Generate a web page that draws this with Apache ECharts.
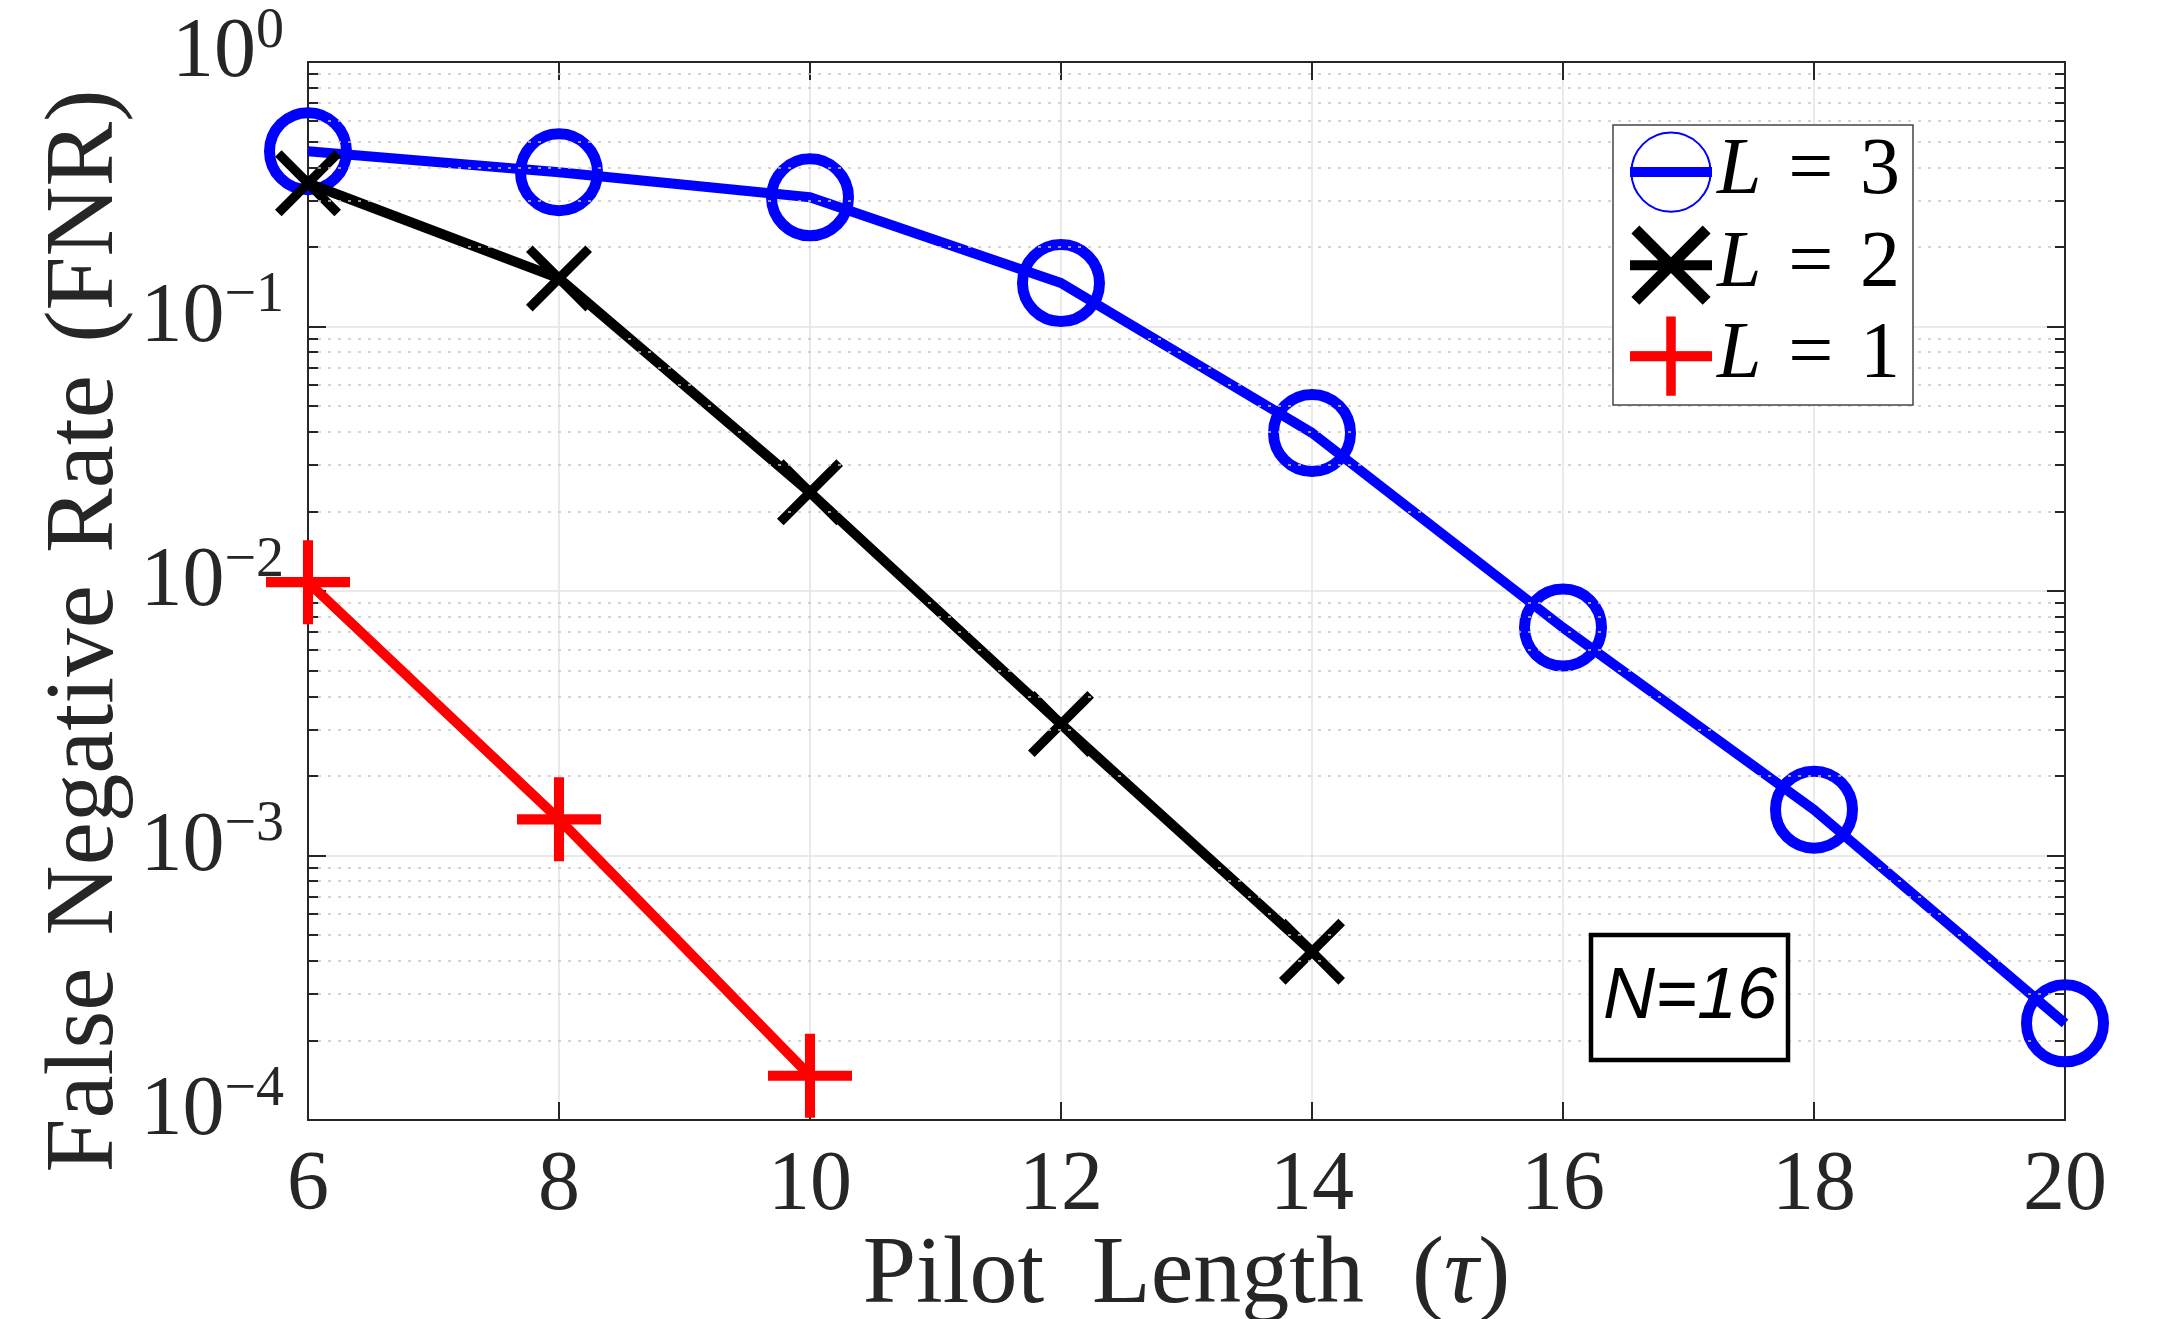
<!DOCTYPE html>
<html>
<head>
<meta charset="utf-8">
<script src="https://cdn.jsdelivr.net/npm/echarts@6/dist/echarts.min.js"></script>
<style>
html, body { margin: 0; padding: 0; background: #fff; }
#chart { width: 2163px; height: 1319px; }
</style>
</head>
<body>
<div id="chart"></div>
<script>
// pilot length on x, FNR per number of paths L
var pilotLength = [6, 8, 10, 12, 14, 16, 18, 20];
var fnrL3 = [0.46, 0.383, 0.308, 0.146, 0.0396, 0.00727, 0.00149, 0.000232];
var fnrL2 = [0.348, 0.152, 0.0236, 0.00314, 0.000433];
var fnrL1 = [0.0108, 0.00137, 0.000147];
var seriesNames = ['L = 3', 'L = 2', 'L = 1'];
// minor log ticks: mantissa x 10^decade
var minorMantissa = [2, 3, 4, 5, 6, 7, 8, 9];
var minorDecades = [-4, -3, -2, -1];

var serif = "'Liberation Serif', 'DejaVu Serif', serif";
var ink = '#262626';
var xMin = 6, xMax = 20;

function pairs(ys) {
    return ys.map(function (y, i) { return [pilotLength[i], y]; });
}

// X marker and plus marker, filled shapes
var xPath = 'path://M10,0 L100,90 L90,100 L0,10 Z M90,0 L100,10 L10,100 L0,90 Z';
var plusPath = 'path://M44,0 H56 V44 H100 V56 H56 V100 H44 V56 H0 V44 H44 Z';

// dotted minor grid + short inner ticks on left/right
var minorLines = [];
var tickLen = 0.08;
minorDecades.forEach(function (d) {
    minorMantissa.forEach(function (m) {
        var v = m * Math.pow(10, d);
        minorLines.push([{ coord: [xMin, v] }, { coord: [xMax, v] }]);
        minorLines.push([{ coord: [xMin, v], lineStyle: { color: ink, type: 'solid', width: 2 } }, { coord: [xMin + tickLen, v] }]);
        minorLines.push([{ coord: [xMax - tickLen, v], lineStyle: { color: ink, type: 'solid', width: 2 } }, { coord: [xMax, v] }]);
    });
});

var chart = echarts.init(document.getElementById('chart'));
chart.setOption({
    animation: false,
    backgroundColor: '#fff',
    grid: { left: 308, right: 98, top: 62, bottom: 199, outerBoundsMode: 'none', containLabel: false },
    xAxis: [{
        type: 'value',
        min: xMin, max: xMax, interval: 2,
        name: '{n|Pilot\u2002Length\u2002(}{t|τ}{n|)}',
        nameLocation: 'middle',
        nameGap: 109,
        nameMoveOverlap: false,
        nameTextStyle: {
            rich: {
                n: { fontFamily: serif, fontSize: 96, color: ink },
                t: { fontFamily: serif, fontSize: 96, fontStyle: 'italic', color: ink }
            }
        },
        axisLine: { onZero: false, lineStyle: { color: ink, width: 2 } },
        axisTick: { inside: true, length: 18, lineStyle: { color: ink, width: 2 } },
        axisLabel: { fontFamily: serif, fontSize: 84, color: ink, margin: 25 },
        splitLine: { show: true, lineStyle: { color: '#e3e3e3', width: 1.5 } }
    }, {
        type: 'value', position: 'top',
        min: xMin, max: xMax, interval: 2,
        axisLine: { onZero: false, lineStyle: { color: ink, width: 2 } },
        axisTick: { inside: true, length: 18, lineStyle: { color: ink, width: 2 } },
        axisLabel: { show: false },
        splitLine: { show: false }
    }],
    yAxis: [{
        type: 'log', logBase: 10,
        min: 1e-4, max: 1, splitNumber: 4,
        name: 'False\u2004Negative\u2004Rate\u2004(FNR)',
        nameLocation: 'middle',
        nameGap: 173,
        nameMoveOverlap: false,
        nameTextStyle: { fontFamily: serif, fontSize: 97, color: ink, padding: [0, 80, 0, 0] },
        axisLine: { onZero: false, lineStyle: { color: ink, width: 2 } },
        axisTick: { inside: true, length: 18, lineStyle: { color: ink, width: 2 } },
        axisLabel: {
            margin: 24,
            fontFamily: serif, fontSize: 84, color: ink,
            padding: [0, 0, 16, 0],
            formatter: function (v) {
                var e = Math.round(Math.log10(v));
                return '{b|10}{s|' + (e === 0 ? '0' : '\u2212' + (-e)) + '}';
            },
            rich: {
                b: { fontFamily: serif, fontSize: 84, lineHeight: 100, color: ink },
                s: { fontFamily: serif, fontSize: 56, lineHeight: 56, verticalAlign: 'top', color: ink }
            }
        },
        splitLine: { show: true, lineStyle: { color: '#e3e3e3', width: 1.5 } }
    }, {
        type: 'log', logBase: 10, position: 'right',
        min: 1e-4, max: 1, splitNumber: 4,
        axisLine: { onZero: false, lineStyle: { color: ink, width: 2 } },
        axisTick: { inside: true, length: 18, lineStyle: { color: ink, width: 2 } },
        axisLabel: { show: false },
        splitLine: { show: false }
    }],
    legend: {
        orient: 'vertical',
        left: 1625, top: 130,
        padding: 0,
        itemWidth: 82, itemHeight: 99, itemGap: 11,
        selectedMode: false,
        z: 20,
        lineStyle: { width: 10 },
        data: seriesNames,
        formatter: function (name) {
            return '{i|L}{n|\u2004=\u2004' + name.split('= ')[1] + '}';
        },
        textStyle: {
            rich: {
                i: { fontFamily: serif, fontSize: 80, lineHeight: 90, fontStyle: 'italic', color: '#000' },
                n: { fontFamily: serif, fontSize: 80, lineHeight: 90, color: '#000' }
            }
        }
    },
    graphic: [
        { type: 'rect', z: 10, shape: { x: 1613, y: 125, width: 300, height: 280 },
          style: { fill: '#fff', stroke: '#444', lineWidth: 1.5 } },
        { type: 'rect', z: 10, shape: { x: 1591, y: 935, width: 197, height: 125 },
          style: { fill: '#fff', stroke: '#000', lineWidth: 4.5 } },
        { type: 'text', z: 11, x: 1690, y: 998,
          style: { text: 'N=16', fontFamily: "'Liberation Sans', Arial, sans-serif", fontSize: 72,
                   fontStyle: 'italic', fill: '#000', align: 'center', verticalAlign: 'middle',
                   textAlign: 'center', textVerticalAlign: 'middle' } }
    ],
    series: [{
        type: 'line', name: 'minor-grid', data: [], z: 1, silent: true,
        markLine: {
            silent: true, symbol: ['none', 'none'], animation: false,
            label: { show: false },
            lineStyle: { color: '#c8c8c8', type: [3, 7], width: 1.5 },
            data: minorLines
        }
    }, {
        type: 'line', name: seriesNames[0], data: pairs(fnrL3), z: 3,
        symbol: 'circle', symbolSize: 77,
        itemStyle: { color: 'none', borderColor: '#0000ff', borderWidth: 11 },
        lineStyle: { color: '#0000ff', width: 10 }
    }, {
        type: 'line', name: seriesNames[1], data: pairs(fnrL2), z: 4,
        symbol: xPath, symbolSize: 66,
        itemStyle: { color: '#000' },
        lineStyle: { color: '#000', width: 10 }
    }, {
        type: 'line', name: seriesNames[2], data: pairs(fnrL1), z: 5,
        symbol: plusPath, symbolSize: 84,
        itemStyle: { color: '#ff0000' },
        lineStyle: { color: '#ff0000', width: 10 }
    }]
});
</script>
</body>
</html>
